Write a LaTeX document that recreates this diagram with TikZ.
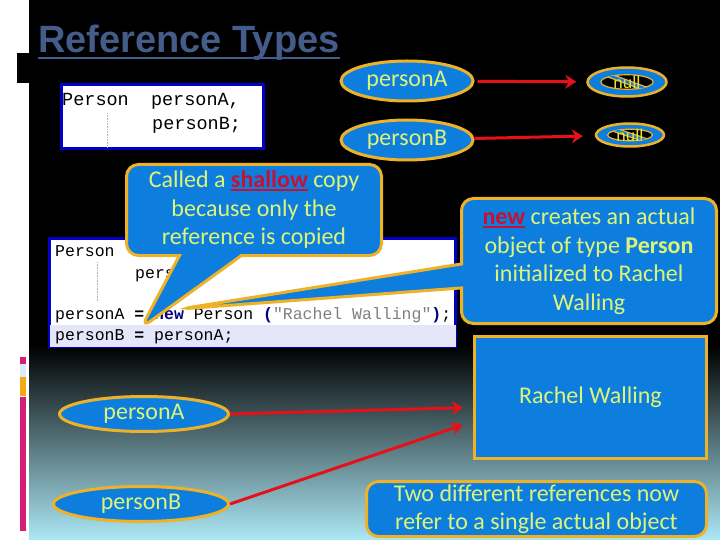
\documentclass[tikz,border=0pt]{standalone}
\usepackage{fontspec}
\setmainfont{Carlito}
\setmonofont{Liberation Mono}
\newfontfamily\titlefont{Liberation Sans}
\usetikzlibrary{shapes.geometric,shapes.callouts,arrows.meta,calc}

\definecolor{bgcyan}{RGB}{172,232,245}
\definecolor{fillblue}{RGB}{14,126,222}
\definecolor{rimorange}{RGB}{238,178,40}
\definecolor{labeltext}{RGB}{220,245,120}
\definecolor{nullyellow}{RGB}{240,225,40}
\definecolor{arrowred}{RGB}{228,18,24}
\definecolor{titleblue}{RGB}{68,92,138}
\definecolor{accentred}{RGB}{200,16,50}
\definecolor{codeblue}{RGB}{0,0,200}
\definecolor{codenavy}{RGB}{0,0,128}
\definecolor{codegray}{RGB}{128,128,128}
\definecolor{codeband}{RGB}{230,230,250}
\definecolor{pinkbar}{RGB}{214,30,120}
\definecolor{palebar}{RGB}{215,235,248}
\definecolor{orangebar}{RGB}{240,170,20}

\newcommand{\ulred}[1]{{\color{accentred}\setbox0\hbox{\bfseries #1}\rlap{\rule[-3pt]{\wd0}{1.6pt}}\box0}}

\begin{document}
\begin{tikzpicture}[x=1pt, y=-1pt, font=\fontsize{24}{28.5}\selectfont,
        refvar/.style={ellipse, draw=rimorange, line width=3pt, fill=fillblue, text=labeltext, inner sep=0pt},
        nullref/.style={ellipse, draw=rimorange, line width=2.5pt, fill=fillblue, text=nullyellow, inner sep=0pt, font=\fontsize{18}{18}\selectfont,
            path picture={
                \draw[rimorange, line width=1.2pt, fill=black] let \p1=(path picture bounding box.center), \p2=(path picture bounding box.north east) in (\p1) ellipse [x radius={0.66*(\x2-\x1)}, y radius={0.5*(\y2-\y1)}];
                \begin{scope}
                    \clip let \p1=(path picture bounding box.center), \p2=(path picture bounding box.north east) in (\p1) ellipse [x radius={0.66*(\x2-\x1)}, y radius={0.5*(\y2-\y1)}];
                    \draw[rimorange, line width=5pt] (path picture bounding box.north west) -- (path picture bounding box.south east);
                    \draw[fillblue, line width=2.5pt] (path picture bounding box.north west) -- (path picture bounding box.south east);
                \end{scope}}},
        note/.style={rectangle callout, draw=rimorange, line width=3pt, fill=fillblue, text=labeltext, rounded corners=12pt, align=center, inner sep=0pt},
        objbox/.style={rectangle, draw=rimorange, line width=3pt, fill=fillblue, text=labeltext, align=center, inner sep=0pt},
        codebox/.style={rectangle, draw=codeblue, line width=3pt, fill=white, inner sep=0pt},
        codeline/.style={anchor=base west, inner sep=0pt, text=black, font=\ttfamily\fontsize{16.5}{21}\selectfont},
        line/.style={draw=arrowred, line width=3pt, -{Stealth[length=11pt, width=14pt]}}]

    \useasboundingbox (0,0) rectangle (720,540);

    % slide background
    \fill[white] (0,0) rectangle (720,540);
    \fill[black] (29,0) rectangle (720,345);
    \shade[top color=black, bottom color=bgcyan] (29,345) rectangle (720,540);
    \fill[black] (17,53) rectangle (29,83);
    \fill[pinkbar] (20,357) rectangle (26,364);
    \fill[palebar] (20,364) rectangle (26,377);
    \fill[orangebar] (20,377) rectangle (26,396);
    \fill[pinkbar] (20,397) rectangle (26,531);

    % title
    \node[anchor=base west, inner sep=0pt, text=titleblue, font=\titlefont\bfseries\fontsize{38}{38}\selectfont] (title) at (38,53) {Reference Types};
    \draw[titleblue, line width=2.2pt] ([yshift=-5pt]title.base west) -- ([yshift=-5pt]title.base east);

    % declaration
    \node[codebox, minimum width=202pt, minimum height=64pt] (decl) at (162.5,116.5) {};
    \node[codeline, font=\ttfamily\fontsize{18.5}{24}\selectfont] (declA) at (62,106) {Person~~personA,};
    \node[codeline, font=\ttfamily\fontsize{18.5}{24}\selectfont] (declB) at (152,130) {personB;};
    \draw[gray!60, densely dotted, line width=0.6pt] (107,113) -- (107,148);

    % variables before assignment
    \node[refvar, minimum width=132pt, minimum height=40pt] (varA) at (407,81) {personA};
    \node[refvar, minimum width=132pt, minimum height=40pt] (varB) at (407,140) {personB};
    \node[nullref, minimum width=79pt, minimum height=29pt] (nullA) at (627,82) {null};
    \node[nullref, minimum width=68pt, minimum height=23pt] (nullB) at (630,135) {null};

    \path[line, shorten <=3pt, shorten >=10pt] (varA) -- (nullA);
    \path[line, shorten >=12pt] (varB) -- (nullB);

    % assignment code
    \node[codebox, minimum width=406pt, minimum height=108pt] (assign) at (252.5,292.5) {};
    \fill[codeband] (49.5,325) rectangle (455.5,346.5);
    \draw[gray!60, densely dotted, line width=0.6pt] (97,262) -- (97,302);
    \node[codeline] (lineA) at (55,256) {Person};
    \node[codeline] (lineB) at (135,278) {personB;};
    \node[codeline] (lineC) at (55,319) {personA \textbf{=} \textcolor{codenavy}{\textbf{new}} Person \textcolor{codenavy}{\textbf{(}}\textcolor{codegray}{"Rachel Walling"}\textcolor{codenavy}{\textbf{)}};};
    \node[codeline] (lineD) at (55,340) {personB \textbf{=} personA;};

    % remarks
    \coordinate (copytip) at (141,328);
    \coordinate (newtip) at (180,309);
    \node[note, callout absolute pointer={(copytip)}, callout pointer width=62pt, minimum width=255pt, minimum height=91pt] (shallow) at (254,210) {Called a \ulred{shallow} copy\\because only the\\reference is copied};
    \node[note, callout absolute pointer={(newtip)}, callout pointer width=24pt, minimum width=255pt, minimum height=125pt] (newnote) at (589,261) {\ulred{new} creates an actual\\object of type \textbf{Person}\\initialized to Rachel\\Walling};

    % object and the two references
    \node[objbox, minimum width=232pt, minimum height=122pt] (rachel) at (590.5,397.5) {Rachel Walling};
    \node[objbox, rounded corners=12pt, minimum width=340pt, minimum height=55pt] (summary) at (536.5,509) {Two different references now\\refer to a single actual object};

    \node[refvar, minimum width=169pt, minimum height=35pt] (holderA) at (144,414) {personA};
    \node[refvar, minimum width=175pt, minimum height=35pt] (holderB) at (141,504) {personB};

    \path[line, shorten >=10pt] (holderA.east) -- ([yshift=-10pt]rachel.west);
    \path[line, shorten >=11pt] (holderB.east) -- ([yshift=-24pt]rachel.west);
\end{tikzpicture}
\end{document}
